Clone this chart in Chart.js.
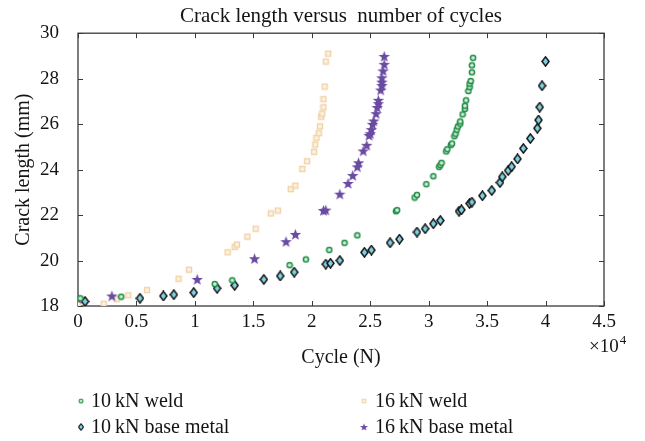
<!DOCTYPE html>
<html><head><meta charset="utf-8">
<script src="https://cdn.jsdelivr.net/npm/chart.js@4.4.0/dist/chart.umd.min.js"></script>
<style>html,body{margin:0;padding:0;background:#fff;}canvas{display:block;}</style>
</head><body>
<canvas id="c" width="645" height="441"></canvas>
<script>
// ---------- data ----------
const chartTitle = 'Crack length versus  number of cycles';
const xTitle = 'Cycle (N)';
const yTitle = 'Crack length (mm)';
const seriesNames = ['10\u2009kN weld', '10\u2009kN base metal', '16\u2009kN weld', '16\u2009kN base metal'];
const xTicks = [0, 5000, 10000, 15000, 20000, 25000, 30000, 35000, 40000, 45000];
const yTicks = [18, 20, 22, 24, 26, 28, 30];

const weld10Cycles = [200, 3700, 11700, 13200, 18100, 19500, 21500, 22800, 23900, 27200, 27300, 28800, 29000, 29800, 30400, 30900, 31000, 31100, 31500, 31600, 31900, 32000, 32200, 32300, 32400, 32500, 32700, 32700, 32900, 33100, 33100, 33200, 33400, 33500, 33500, 33600, 33700, 33700, 33800];
const weld10Length = [18.34, 18.41, 18.97, 19.13, 19.80, 20.05, 20.47, 20.78, 21.11, 22.17, 22.22, 22.77, 22.89, 23.36, 23.71, 24.12, 24.20, 24.30, 24.80, 24.90, 25.09, 25.15, 25.47, 25.58, 25.76, 25.90, 26.02, 26.12, 26.43, 26.67, 26.81, 27.05, 27.46, 27.63, 27.78, 27.90, 28.28, 28.59, 28.92];

const base10Cycles = [600, 5300, 7300, 8200, 9900, 11900, 13400, 15900, 17300, 18500, 21200, 21600, 22400, 24500, 25100, 26700, 27500, 29000, 29700, 30400, 31000, 32600, 32800, 33500, 33700, 34600, 35400, 36100, 36300, 36800, 37100, 37600, 38100, 38700, 39300, 39400, 39500, 39700, 40000];
const base10Length = [18.20, 18.34, 18.44, 18.50, 18.59, 18.78, 18.91, 19.17, 19.32, 19.49, 19.84, 19.88, 20.00, 20.36, 20.46, 20.78, 20.94, 21.25, 21.40, 21.62, 21.76, 22.17, 22.23, 22.51, 22.57, 22.85, 23.08, 23.43, 23.68, 23.96, 24.13, 24.47, 24.93, 25.37, 25.82, 26.18, 26.75, 27.69, 28.76];

const weld16Cycles = [0, 2200, 3300, 4300, 5900, 8600, 9500, 12800, 13400, 13600, 14500, 15200, 16500, 17100, 18200, 18600, 19200, 19600, 20200, 20300, 20400, 20600, 20700, 20800, 20900, 21000, 21000, 21100, 21200, 21400];
const weld16Length = [18.05, 18.10, 18.30, 18.47, 18.70, 19.20, 19.60, 20.36, 20.60, 20.70, 21.05, 21.40, 22.07, 22.20, 23.14, 23.30, 24.03, 24.37, 24.78, 25.10, 25.40, 25.60, 25.90, 26.33, 26.46, 26.74, 27.10, 27.65, 28.75, 29.10];

const base16Cycles = [0, 2900, 10200, 15100, 17800, 18600, 21000, 21200, 22400, 23100, 23500, 23900, 24000, 24400, 24700, 24900, 25000, 25100, 25200, 25300, 25500, 25600, 25700, 25700, 25900, 26000, 26000, 26000, 26100, 26200, 26200];
const base16Length = [18.33, 18.44, 19.17, 20.08, 20.83, 21.15, 22.20, 22.22, 22.92, 23.39, 23.74, 24.12, 24.30, 24.82, 25.07, 25.50, 25.58, 25.76, 25.99, 26.14, 26.46, 26.73, 26.90, 27.05, 27.50, 27.70, 27.85, 28.04, 28.34, 28.63, 28.98];

// ---------- styling ----------
const FONT = "'Liberation Serif', 'DejaVu Serif', serif";
const TXT = '#141414';

function mk(w, h, draw) {
  const c = document.createElement('canvas');
  c.width = w; c.height = h;
  draw(c.getContext('2d'));
  return c;
}
const circleImg = mk(8, 8, g => {
  g.beginPath(); g.arc(4, 4, 2.6, 0, Math.PI * 2);
  g.fillStyle = '#d6eedc'; g.fill();
  g.lineWidth = 1.5; g.strokeStyle = '#1f8d45'; g.stroke();
});
const diamondImg = mk(9, 11, g => {
  g.beginPath(); g.moveTo(4.5, 0.9); g.lineTo(8.0, 5.5); g.lineTo(4.5, 10.1); g.lineTo(1.0, 5.5); g.closePath();
  g.fillStyle = '#7fd2e2'; g.fill();
  g.lineWidth = 1.5; g.strokeStyle = '#111'; g.stroke();
});
const squareImg = mk(8, 8, g => {
  g.fillStyle = '#fdf3e4'; g.fillRect(1.5, 1.5, 5, 5);
  g.lineWidth = 1.4; g.strokeStyle = '#f1d2a6'; g.strokeRect(1.5, 1.5, 5, 5);
});
function starPath(g, cx, cy, R, r) {
  g.beginPath();
  for (let i = 0; i < 10; i++) {
    const a = -Math.PI / 2 + i * Math.PI / 5;
    const rad = i % 2 === 0 ? R : r;
    const px = cx + rad * Math.cos(a), py = cy + rad * Math.sin(a);
    i === 0 ? g.moveTo(px, py) : g.lineTo(px, py);
  }
  g.closePath();
}
const starImg = mk(13, 13, g => {
  starPath(g, 6.5, 6.9, 6, 2.5);
  g.fillStyle = '#6b4ba2'; g.fill();
});

function pts(xs, ys) { return xs.map((x, i) => ({ x: x, y: ys[i] })); }

const datasets = [
  { label: seriesNames[0], data: pts(weld10Cycles, weld10Length), pointStyle: circleImg },
  { label: seriesNames[1], data: pts(base10Cycles, base10Length), pointStyle: diamondImg },
  { label: seriesNames[3], data: pts(base16Cycles, base16Length), pointStyle: starImg },
  { label: seriesNames[2], data: pts(weld16Cycles, weld16Length), pointStyle: squareImg }
].map(d => Object.assign(d, { showLine: false, pointRadius: 4, pointHoverRadius: 4 }));

// ---------- plugins ----------
const framePlugin = {
  id: 'frame',
  beforeDatasetsDraw(chart) {
    const { ctx, chartArea: a, scales: { x, y } } = chart;
    ctx.save();
    ctx.strokeStyle = '#3a3a3a';
    ctx.lineWidth = 1.3;
    ctx.strokeRect(a.left, a.top, a.right - a.left, a.bottom - a.top);
    const L = 5;
    ctx.beginPath();
    x.ticks.forEach(t => {
      const px = Math.round(x.getPixelForValue(t.value)) + 0.5;
      ctx.moveTo(px, a.bottom); ctx.lineTo(px, a.bottom - L);
      ctx.moveTo(px, a.top); ctx.lineTo(px, a.top + L);
    });
    y.ticks.forEach(t => {
      const py = Math.round(y.getPixelForValue(t.value)) + 0.5;
      ctx.moveTo(a.left, py); ctx.lineTo(a.left + L, py);
      ctx.moveTo(a.right, py); ctx.lineTo(a.right - L, py);
    });
    ctx.lineWidth = 1;
    ctx.stroke();
    ctx.restore();
  },
  afterDraw(chart) {
    const { ctx, chartArea: a } = chart;
    ctx.save();
    ctx.fillStyle = TXT;
    // exponent label
    ctx.textBaseline = 'alphabetic';
    ctx.textAlign = 'left';
    ctx.font = '19px ' + FONT;
    const ex = a.right - 15;
    ctx.fillText('\u00d710', ex, a.bottom + 46);
    const w = ctx.measureText('\u00d710').width;
    ctx.font = '13px ' + FONT;
    ctx.fillText('4', ex + w + 1, a.bottom + 38);
    // legend (2 x 2)
    const cols = [{ mx: 81, tx: 91 }, { mx: 364, tx: 375 }];
    const rows = [401, 427];
    const layout = [[0, 0, 0], [1, 0, 1], [2, 1, 0], [3, 1, 1]];
    const imgs = [circleImg, diamondImg, squareImg, starImg];
    const scale = [0.75, 0.72, 0.75, 0.68];
    ctx.font = '20px ' + FONT;
    ctx.textBaseline = 'middle';
    layout.forEach(([si, c, r]) => {
      const img = imgs[si];
      const s = scale[si];
      const iw = img.width * s, ih = img.height * s;
      ctx.drawImage(img, cols[c].mx - iw / 2, rows[r] - ih / 2, iw, ih);
      ctx.fillText(seriesNames[si], cols[c].tx, rows[r] + 1);
    });
    ctx.restore();
  }
};

new Chart(document.getElementById('c'), {
  type: 'scatter',
  data: { datasets: datasets },
  options: {
    responsive: false,
    animation: false,
    devicePixelRatio: 1,
    layout: { padding: { left: 0, right: 41, top: 0, bottom: 71 } },
    plugins: {
      legend: { display: false },
      tooltip: { enabled: false },
      title: {
        display: true, text: chartTitle, fullSize: false, color: TXT,
        font: { family: FONT, size: 21, weight: 'normal' },
        padding: { top: 4, bottom: 4 }
      }
    },
    scales: {
      x: {
        type: 'linear', min: 0, max: 45000,
        afterBuildTicks: s => { s.ticks = xTicks.map(v => ({ value: v })); },
        afterFit: s => { s.height = 64; },
        ticks: {
          callback: v => String(v / 10000), color: TXT, padding: 5,
          font: { family: FONT, size: 19 }, maxRotation: 0, autoSkip: false
        },
        grid: { display: false, drawTicks: false },
        border: { display: false },
        title: { display: true, text: xTitle, color: TXT, font: { family: FONT, size: 20 }, padding: { top: 0, bottom: 0 } }
      },
      y: {
        type: 'linear', min: 18, max: 30,
        afterBuildTicks: s => { s.ticks = yTicks.map(v => ({ value: v })); },
        afterFit: s => { s.width = 78; },
        ticks: { color: TXT, padding: 19, font: { family: FONT, size: 19 } },
        grid: { display: false, drawTicks: false },
        border: { display: false },
        title: { display: true, text: yTitle, color: TXT, font: { family: FONT, size: 20 }, padding: { top: 12, bottom: 0 } }
      }
    }
  },
  plugins: [framePlugin]
});
</script>
</body></html>
